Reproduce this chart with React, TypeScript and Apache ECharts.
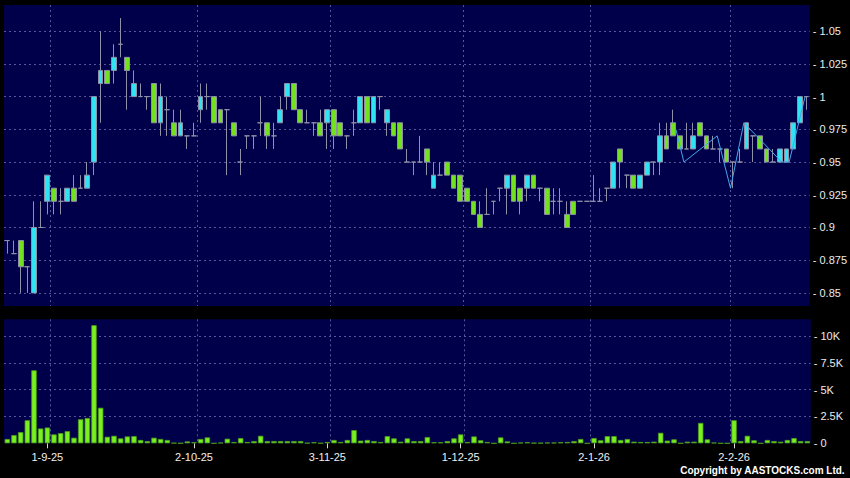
import React, { useEffect, useRef } from 'react';
import * as echarts from 'echarts';

const dates = [
  '22-8-25', '25-8-25', '26-8-25', '27-8-25', '28-8-25', '29-8-25',
  '1-9-25', '2-9-25', '3-9-25', '4-9-25', '5-9-25', '8-9-25', '9-9-25', '10-9-25', '11-9-25', '12-9-25',
  '15-9-25', '16-9-25', '17-9-25', '18-9-25', '19-9-25', '22-9-25', '23-9-25', '24-9-25', '25-9-25', '26-9-25',
  '29-9-25', '30-9-25',
  '2-10-25', '3-10-25', '6-10-25', '8-10-25', '9-10-25', '10-10-25', '13-10-25', '14-10-25', '15-10-25', '16-10-25',
  '17-10-25', '20-10-25', '21-10-25', '22-10-25', '23-10-25', '24-10-25', '27-10-25', '28-10-25', '30-10-25', '31-10-25',
  '3-11-25', '4-11-25', '5-11-25', '6-11-25', '7-11-25', '10-11-25', '11-11-25', '12-11-25', '13-11-25', '14-11-25',
  '17-11-25', '18-11-25', '19-11-25', '20-11-25', '21-11-25', '24-11-25', '25-11-25', '26-11-25', '27-11-25', '28-11-25',
  '1-12-25', '2-12-25', '3-12-25', '4-12-25', '5-12-25', '8-12-25', '9-12-25', '10-12-25', '11-12-25', '12-12-25',
  '15-12-25', '16-12-25', '17-12-25', '18-12-25', '19-12-25', '22-12-25', '23-12-25', '24-12-25', '29-12-25', '30-12-25',
  '2-1-26', '5-1-26', '6-1-26', '7-1-26', '8-1-26', '9-1-26', '12-1-26', '13-1-26', '14-1-26', '15-1-26',
  '16-1-26', '19-1-26', '20-1-26', '21-1-26', '22-1-26', '23-1-26', '26-1-26', '27-1-26', '28-1-26', '29-1-26', '30-1-26',
  '2-2-26', '3-2-26', '4-2-26', '5-2-26', '6-2-26', '9-2-26', '10-2-26', '11-2-26', '12-2-26', '13-2-26',
  '16-2-26', '20-2-26',
];

const opens = [
  0.89, 0.88, 0.89, 0.87, 0.85, 0.90, 0.92, 0.93, 0.92, 0.92,
  0.93, 0.93, 0.93, 0.95, 1.01, 1.02, 1.02, 1.04, 1.03, 1.00,
  1.00, 1.00, 1.01, 0.98, 0.99, 0.98, 0.97, 0.97, 0.97, 0.99,
  1.00, 1.00, 0.99, 0.99, 0.98, 0.95, 0.97, 0.97, 0.98, 0.98,
  0.97, 0.98, 1.00, 1.01, 0.99, 0.98, 0.98, 0.98, 0.98, 0.99,
  0.98, 0.97, 0.98, 0.98, 1.00, 0.98, 1.00, 0.98, 0.98, 0.98,
  0.95, 0.95, 0.95, 0.96, 0.93, 0.94, 0.95, 0.94, 0.94, 0.93,
  0.92, 0.91, 0.91, 0.92, 0.93, 0.93, 0.94, 0.93, 0.93, 0.94,
  0.93, 0.93, 0.92, 0.92, 0.91, 0.92, 0.92, 0.92, 0.92, 0.92,
  0.93, 0.93, 0.96, 0.94, 0.94, 0.93, 0.94, 0.95, 0.95, 0.97,
  0.98, 0.97, 0.96, 0.96, 0.98, 0.97, 0.96, 0.96, 0.96, 0.95,
  0.95, 0.96, 0.97, 0.97, 0.96, 0.95, 0.95, 0.95, 0.96, 0.98,
  1.00,
];

const closes = [
  0.89, 0.88, 0.87, 0.87, 0.90, 0.90, 0.94, 0.92, 0.92, 0.93,
  0.92, 0.93, 0.94, 1.00, 1.02, 1.01, 1.03, 1.04, 1.02, 1.01,
  1.00, 1.00, 0.98, 1.00, 0.99, 0.97, 0.98, 0.97, 0.97, 1.00,
  1.00, 0.98, 0.98, 0.99, 0.97, 0.95, 0.97, 0.97, 0.98, 0.97,
  0.97, 0.99, 1.01, 0.99, 0.98, 0.98, 0.98, 0.97, 0.99, 0.97,
  0.97, 0.97, 0.98, 1.00, 0.98, 1.00, 1.00, 0.99, 0.97, 0.96,
  0.95, 0.95, 0.95, 0.95, 0.94, 0.94, 0.94, 0.93, 0.92, 0.92,
  0.91, 0.90, 0.91, 0.92, 0.93, 0.94, 0.92, 0.92, 0.94, 0.93,
  0.93, 0.91, 0.92, 0.92, 0.90, 0.91, 0.92, 0.92, 0.92, 0.92,
  0.93, 0.95, 0.95, 0.94, 0.93, 0.94, 0.95, 0.95, 0.97, 0.96,
  0.97, 0.96, 0.96, 0.97, 0.97, 0.96, 0.96, 0.96, 0.95, 0.95,
  0.95, 0.98, 0.97, 0.96, 0.95, 0.95, 0.96, 0.96, 0.98, 1.00,
  1.00,
];

const lows = [
  0.88, 0.88, 0.85, 0.85, 0.85, 0.90, 0.91, 0.91, 0.91, 0.92,
  0.92, 0.93, 0.93, 0.94, 0.98, 1.01, 1.01, 1.03, 0.99, 1.00,
  1.00, 0.99, 0.98, 0.97, 0.97, 0.97, 0.97, 0.96, 0.97, 0.98,
  0.99, 0.98, 0.98, 0.94, 0.97, 0.94, 0.96, 0.96, 0.97, 0.96,
  0.96, 0.98, 0.99, 0.99, 0.98, 0.98, 0.97, 0.97, 0.96, 0.96,
  0.97, 0.96, 0.97, 0.98, 0.98, 0.98, 0.99, 0.97, 0.97, 0.96,
  0.95, 0.94, 0.95, 0.94, 0.93, 0.94, 0.94, 0.93, 0.92, 0.92,
  0.91, 0.90, 0.91, 0.91, 0.92, 0.91, 0.92, 0.91, 0.92, 0.93,
  0.92, 0.91, 0.91, 0.91, 0.90, 0.91, 0.92, 0.92, 0.92, 0.92,
  0.92, 0.93, 0.93, 0.93, 0.93, 0.93, 0.94, 0.94, 0.94, 0.96,
  0.97, 0.96, 0.96, 0.96, 0.97, 0.96, 0.96, 0.95, 0.95, 0.93,
  0.95, 0.96, 0.95, 0.96, 0.95, 0.95, 0.95, 0.95, 0.96, 0.98,
  0.99,
];

const highs = [
  0.89, 0.89, 0.89, 0.87, 0.92, 0.92, 0.94, 0.93, 0.93, 0.93,
  0.94, 0.94, 0.95, 1.00, 1.05, 1.02, 1.04, 1.06, 1.03, 1.02,
  1.01, 1.00, 1.01, 1.01, 1.00, 0.99, 0.99, 0.97, 0.98, 1.01,
  1.01, 1.00, 0.99, 0.99, 0.98, 0.96, 0.97, 0.97, 1.00, 0.98,
  0.98, 1.00, 1.01, 1.01, 0.99, 0.99, 0.98, 0.99, 0.99, 0.99,
  0.98, 0.97, 0.99, 1.00, 1.00, 1.00, 1.00, 0.99, 0.98, 0.98,
  0.96, 0.95, 0.97, 0.96, 0.95, 0.95, 0.95, 0.94, 0.94, 0.93,
  0.92, 0.92, 0.93, 0.92, 0.93, 0.94, 0.94, 0.93, 0.94, 0.94,
  0.93, 0.93, 0.93, 0.93, 0.92, 0.92, 0.92, 0.92, 0.94, 0.93,
  0.93, 0.95, 0.96, 0.94, 0.94, 0.94, 0.95, 0.95, 0.98, 0.98,
  0.99, 0.97, 0.98, 0.98, 0.98, 0.97, 0.97, 0.96, 0.96, 0.95,
  0.96, 0.98, 0.97, 0.97, 0.96, 0.96, 0.96, 0.96, 0.98, 1.00,
  1.00,
];

const volumes = [
  400, 770, 1040, 2150, 6800, 1380, 1470, 830, 950, 1130,
  520, 2240, 2360, 11000, 3310, 610, 700, 460, 640, 670,
  310, 210, 520, 400, 310, 30, 10, 180, 100, 400,
  550, 0, 60, 430, 120, 490, 120, 210, 700, 210,
  210, 210, 210, 210, 210, 30, 100, 10, 120, 310,
  120, 310, 1230, 250, 310, 210, 120, 670, 460, 150,
  460, 210, 210, 580, 100, 100, 210, 460, 830, 120,
  640, 280, 120, 0, 550, 180, 0, 60, 100, 30,
  30, 60, 60, 100, 120, 210, 400, 0, 490, 280,
  670, 670, 310, 400, 150, 120, 120, 150, 980, 250,
  370, 0, 150, 150, 1900, 370, 60, 0, 0, 2150,
  210, 700, 280, 0, 310, 210, 150, 310, 490, 210,
  210,
];

// position (in trading-day slots) and price of the thin blue line
const linePositions = [100.4, 101.6, 106.6, 108.6, 110.6, 116.3, 117.4, 119.8];
const lineValues = [0.975, 0.95, 0.97, 0.93, 0.98, 0.95, 0.95, 1.0];

const gridLineDates = ['2-9-25', '3-10-25', '4-11-25', '2-12-25', '2-1-26', '2-2-26'];

const FONT = 'Liberation Sans, Arial, sans-serif';
const PLOT_BG = '#00004a';
const GRID_LINE = '#55559a';
const WICK = '#9090a8';
const UP = '#2fe3f2';
const DOWN = '#72e21e';
const VOL = '#7af020';

export default function App() {
  const ref = useRef<HTMLDivElement>(null);

  useEffect(() => {
    if (!ref.current) return;
    const chart = echarts.init(ref.current, null, { renderer: 'svg' });

    const candleData = dates.map((_, i) => [opens[i], closes[i], lows[i], highs[i]]);
    const lineData = linePositions.map((p, i) => [p, lineValues[i]]);
    const monthOf = (d: string) => d.split('-')[1];
    const isMonthStart = (i: number) => i > 0 && monthOf(dates[i]) !== monthOf(dates[i - 1]);
    const isGridLine = (i: number) => gridLineDates.includes(dates[i]);

    const splitLineStyle = { color: GRID_LINE, width: 1, type: [2, 3] as any };

    chart.setOption({
      animation: false,
      backgroundColor: '#000000',
      grid: [
        { left: 4, right: 39.3, top: 5, height: 301, show: true, backgroundColor: PLOT_BG, borderWidth: 0 },
        { left: 4, right: 39.3, top: 319.3, height: 124, show: true, backgroundColor: PLOT_BG, borderWidth: 0 },
      ],
      xAxis: [
        {
          type: 'category', gridIndex: 0, data: dates, boundaryGap: true,
          axisLine: { show: false }, axisTick: { show: false }, axisLabel: { show: false },
          splitLine: { show: true, interval: (i: number) => isGridLine(i), lineStyle: splitLineStyle, showMaxLine: false },
        },
        {
          type: 'category', gridIndex: 1, data: dates, boundaryGap: true,
          axisLine: { show: false },
          axisTick: { show: true, alignWithLabel: true, interval: (i: number) => isMonthStart(i), length: 5, lineStyle: { color: '#d8d8d8' } },
          axisLabel: { show: true, interval: (i: number) => isMonthStart(i), color: '#f0f0f0', fontSize: 11, fontFamily: FONT, margin: 8 },
          splitLine: { show: true, interval: (i: number) => isGridLine(i), lineStyle: splitLineStyle, showMaxLine: false },
        },
        { type: 'value', gridIndex: 0, min: -0.5, max: 120.5, show: false },
      ],
      yAxis: [
        {
          type: 'value', gridIndex: 0, position: 'right', min: 0.84, max: 1.07,
          minInterval: 0.025, maxInterval: 0.025, splitNumber: 9,
          axisLine: { show: false }, axisTick: { show: false },
          axisLabel: {
            color: '#ececec', fontSize: 11, fontFamily: FONT, margin: 3,
            showMinLabel: false, showMaxLabel: false,
            formatter: (v: number) => '- ' + v,
          },
          splitLine: { show: true, lineStyle: splitLineStyle, showMinLine: false, showMaxLine: false },
        },
        {
          type: 'value', gridIndex: 1, position: 'right', min: 0, max: 11550, interval: 2500,
          axisLine: { show: false }, axisTick: { show: false },
          axisLabel: {
            color: '#ececec', fontSize: 11, fontFamily: FONT, margin: 3,
            showMaxLabel: false,
            formatter: (v: number) => '- ' + (v === 0 ? '0' : v / 1000 + 'K'),
          },
          splitLine: { show: true, lineStyle: splitLineStyle, showMinLine: false, showMaxLine: false },
        },
      ],
      series: [
        {
          type: 'candlestick', xAxisIndex: 0, yAxisIndex: 0, data: candleData, barWidth: 5.3,
          itemStyle: {
            color: UP, color0: DOWN,
            borderColor: WICK, borderColor0: WICK, borderColorDoji: WICK, borderWidth: 1,
          },
        },
        {
          type: 'line', xAxisIndex: 2, yAxisIndex: 0, data: lineData, symbol: 'none',
          lineStyle: { color: '#3fa8ee', width: 1 }, z: 5,
        },
        {
          type: 'bar', xAxisIndex: 1, yAxisIndex: 1, data: volumes, barWidth: 5.4,
          itemStyle: { color: VOL, borderColor: '#4c9e18', borderWidth: 0.8 },
        },
      ],
      graphic: [
        {
          type: 'text', right: 5, top: 465,
          style: { text: 'Copyright by AASTOCKS.com Ltd.', fill: '#ffffff', font: 'bold 10px ' + FONT },
        },
      ],
    });

    return () => chart.dispose();
  }, []);

  return (
    <div style={{ position: 'fixed', left: 0, top: 0, width: 850, height: 478, background: '#000' }}>
      <div ref={ref} style={{ width: 850, height: 478 }} />
    </div>
  );
}
